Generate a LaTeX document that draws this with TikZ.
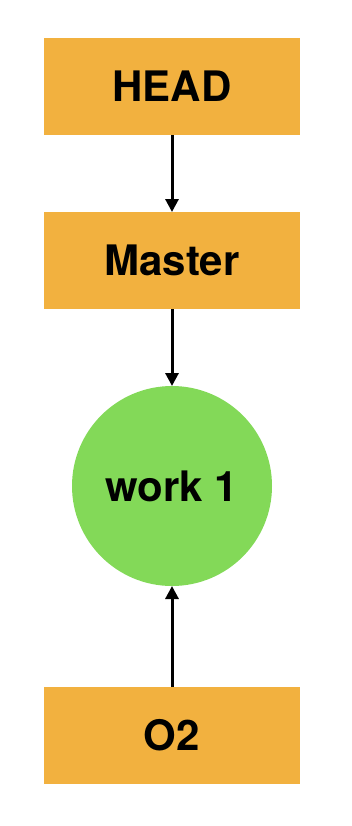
\documentclass[tikz,border=0pt]{standalone}
\usepackage{fontspec}
\setmainfont{TeX Gyre Heros}
\usetikzlibrary{arrows.meta}
\definecolor{refbox}{HTML}{F2B13F}
\definecolor{commit}{HTML}{83D958}

\begin{document}
\begin{tikzpicture}[x=0.5pt,y=-0.5pt,
  refnode/.style={fill=refbox, minimum width=128pt, minimum height=48.5pt, inner sep=0pt, outer sep=0pt, font=\fontsize{21}{25}\selectfont\bfseries},
  commitnode/.style={circle, fill=commit, minimum size=100pt, inner sep=0pt, outer sep=0pt, font=\fontsize{21}{25}\selectfont\bfseries},
  ptr/.style={line width=1.5pt, -{Triangle[width=6.5pt,length=6.5pt]}}]
\useasboundingbox (0,0) rectangle (352,826);
\node[refnode] (head) at (172,86.5) {HEAD};
\node[refnode] (master) at (172,260.5) {Master};
\node[commitnode] (work) at (172,486) {work 1};
\node[refnode] (o2) at (172,735.5) {O2};
\draw[ptr] (head) -- (master);
\draw[ptr] (master) -- (work);
\draw[ptr] (o2) -- (work);
\end{tikzpicture}
\end{document}
